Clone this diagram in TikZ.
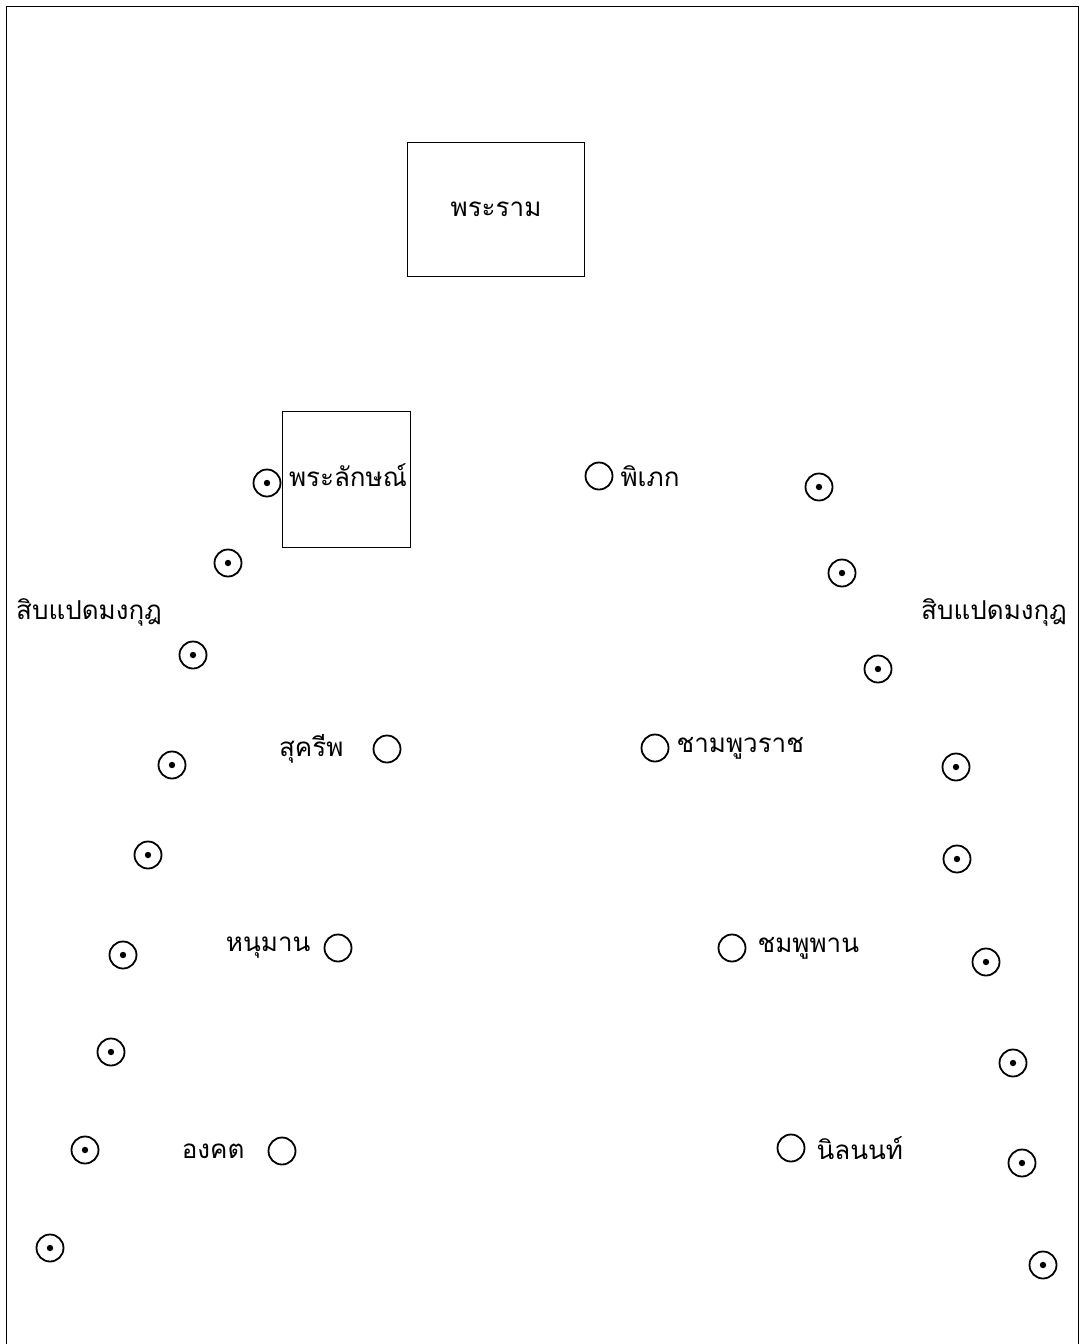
\documentclass[tikz,border=0pt]{standalone}
\usepackage{fontspec}
\newfontfamily\thaifont[Script=Thai]{Loma}
\usepackage{tikz}
\usetikzlibrary{positioning}

\begin{document}
\begin{tikzpicture}[x=1pt, y=-1pt, node distance=6pt,
  every node/.style={font=\thaifont\fontsize{26}{30}\selectfont, inner sep=1pt},
  lordbox/.style={draw, line width=0.8pt, inner sep=0pt},
  chief/.style={circle, draw, line width=1.8pt, minimum size=27pt, inner sep=0pt},
  soldier/.style={circle, draw, line width=1.8pt, minimum size=27pt, inner sep=0pt,
    path picture={\fill (path picture bounding box.center) circle (3.2pt);}}]
  \useasboundingbox (0,0) rectangle (1080,1344);
  % frame
  \draw[line width=0.8pt] (6,1344) -- (6,6) -- (1078,6) -- (1078,1344);

  % leaders
  \node[lordbox, minimum width=177pt, minimum height=134pt] (rama) at (496,209) {พระราม};
  \node[lordbox, minimum width=128pt, minimum height=136pt] (lak) at (346,479) {};
  \node (laktxt) at (348,475) {พระลักษณ์};

  % chiefs
  \node[chief] (pipek) at (599,476) {};
  \node[right=of pipek] (pipektxt) {พิเภก};
  \node[chief] (sugriva) at (387,749) {};
  \node[left=28pt of sugriva] (sugrivatxt) {สุครีพ};
  \node[chief] (jambu) at (655,748) {};
  \node[right=of jambu] (jambutxt) {ชามพูวราช};
  \node[chief] (hanu) at (338,948) {};
  \node[left=12pt of hanu] (hanutxt) {หนุมาน};
  \node[chief] (chompu) at (732,948) {};
  \node[right=10pt of chompu] (chomputxt) {ชมพูพาน};
  \node[chief] (angkot) at (282,1151) {};
  \node[left=22pt of angkot] (angkottxt) {องคต};
  \node[chief] (nilanon) at (791,1148) {};
  \node[right=10pt of nilanon] (nilanontxt) {นิลนนท์};

  % eighteen crowns, left wing
  \node (leftcrown) at (89,612) {สิบแปดมงกุฎ};
  \node[soldier] (l1) at (267,483) {};
  \node[soldier] (l2) at (228,563) {};
  \node[soldier] (l3) at (193,655) {};
  \node[soldier] (l4) at (172,765) {};
  \node[soldier] (l5) at (148,855) {};
  \node[soldier] (l6) at (123,955) {};
  \node[soldier] (l7) at (111,1052) {};
  \node[soldier] (l8) at (85,1150) {};
  \node[soldier] (l9) at (50,1248) {};

  % eighteen crowns, right wing
  \node (rightcrown) at (994,612) {สิบแปดมงกุฎ};
  \node[soldier] (r1) at (819,487) {};
  \node[soldier] (r2) at (842,573) {};
  \node[soldier] (r3) at (878,669) {};
  \node[soldier] (r4) at (956,767) {};
  \node[soldier] (r5) at (957,859) {};
  \node[soldier] (r6) at (986,962) {};
  \node[soldier] (r7) at (1013,1063) {};
  \node[soldier] (r8) at (1022,1163) {};
  \node[soldier] (r9) at (1043,1265) {};
\end{tikzpicture}
\end{document}
